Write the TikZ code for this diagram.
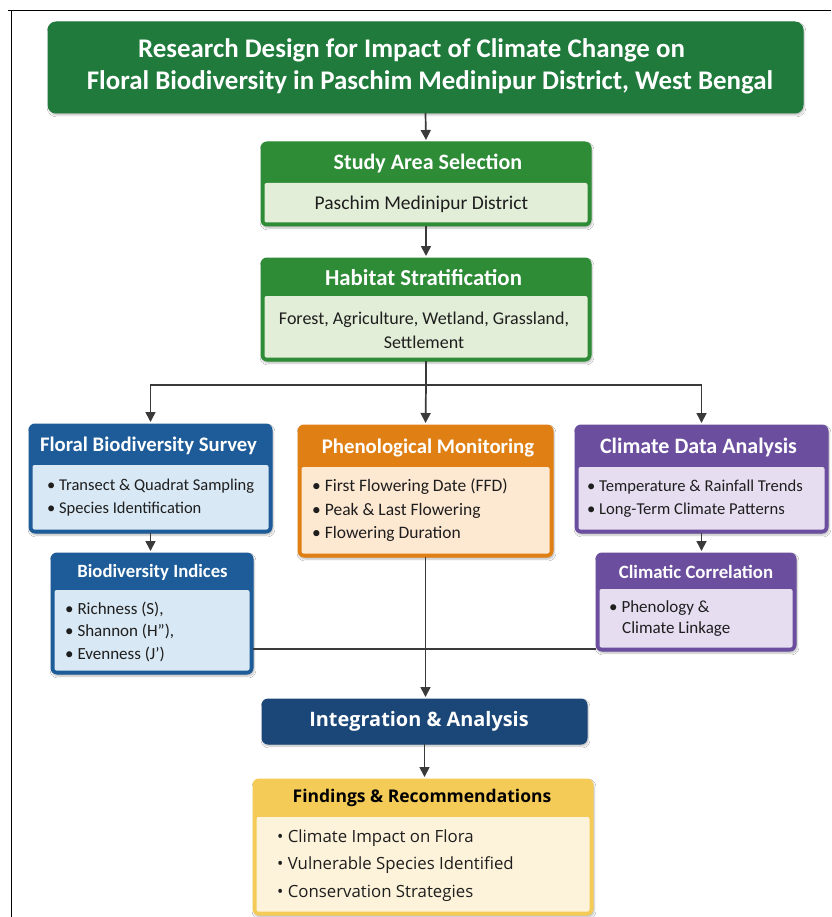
\documentclass[tikz,border=0pt]{standalone}
\usepackage{fontspec}
\setmainfont{Carlito}
\newfontfamily\osans{Open Sans}
\usetikzlibrary{arrows.meta,fit,shadows.blur}
\definecolor{tiG}{HTML}{1F7A3C}
\definecolor{grD}{HTML}{2E8B36}
\definecolor{grL}{HTML}{E2EED7}
\definecolor{blD}{HTML}{1D5C98}
\definecolor{blL}{HTML}{D8E8F4}
\definecolor{orD}{HTML}{DF7F14}
\definecolor{orL}{HTML}{FDE8D2}
\definecolor{puD}{HTML}{6B4E9E}
\definecolor{puL}{HTML}{E6DDF1}
\definecolor{naD}{HTML}{1B4778}
\definecolor{yeD}{HTML}{F4CB57}
\definecolor{yeL}{HTML}{FDF2DA}
\definecolor{txt}{HTML}{1E1E1E}
\definecolor{cn}{HTML}{3A3A3A}
\tikzset{
  panel/.style={rounded corners=6pt, line width=1pt, inner sep=0pt, outer sep=0pt,
    blur shadow={shadow blur steps=6, shadow xshift=1pt, shadow yshift=-2pt, shadow opacity=28}},
  conn/.style={draw=cn, line width=1.7pt},
  arr/.style={conn, -{Triangle[length=10pt,width=10pt]}, shorten >=2pt},
  hdr/.style={text=white, inner sep=0pt, font=\bfseries},
  bodytxt/.style={text=txt, inner sep=0pt, align=left, anchor=west},
}
\newcommand\panelbox[7]{%
  \node[panel, fill=#7D, draw=#7D, fit={(#2,#3) (#4,#5)}] (#1) {};
  \fill[#7L, rounded corners=2pt] ({#2+3.5},#6) rectangle ({#4-3.5},{#5-3.5});
}
\begin{document}
\begin{tikzpicture}[x=1pt,y=-1pt]
\path[use as bounding box] (0,0) rectangle (831,917);
\fill[white] (0,0) rectangle (831,917);
% frame
\draw[line width=1.3pt] (8,10.5) -- (831,10.5);
\draw[line width=1.3pt] (11.5,10.5) -- (11.5,917);

% title
\node[panel, fill=tiG, draw=tiG, rounded corners=8pt, fit={(48,22) (803,113)}] (title) {};
\node[hdr, align=center, font=\fontsize{26.9}{31.5}\selectfont\bfseries] (titletxt) at (425.5,66.5)
  {Research Design for Impact of Climate Change on\hspace*{28pt}\\\hspace*{9pt}Floral Biodiversity in Paschim Medinipur District, West Bengal};

% study area
\panelbox{sa}{261}{142}{591}{226}{183}{gr}
\node[hdr, font=\fontsize{22}{25}\selectfont\bfseries] (sah) at (428,163) {Study Area Selection};
\node[text=txt, inner sep=0pt, font=\fontsize{19.5}{23}\selectfont] (sab) at (421.5,204) {Paschim Medinipur District};

% habitat
\panelbox{hs}{261}{258}{591}{361}{296}{gr}
\node[hdr, font=\fontsize{22.8}{25}\selectfont\bfseries] (hsh) at (423.5,278) {Habitat Stratification};
\node[text=txt, inner sep=0pt, align=center, font=\fontsize{18}{23.7}\selectfont] (hsb) at (424,330) {Forest, Agriculture, Wetland, Grassland,\\Settlement};

% floral biodiversity survey
\panelbox{fbs}{29}{424}{272}{533}{465}{bl}
\node[hdr, font=\fontsize{20.7}{23}\selectfont\bfseries] (fbsh) at (148.5,446) {Floral Biodiversity Survey};
\node[bodytxt, font=\fontsize{16.5}{23}\selectfont] (fbsb) at (47,497.5) {• Transect \& Quadrat Sampling\\• Species Identification};

% phenological monitoring
\panelbox{pm}{298}{425}{553}{557}{467}{or}
\node[hdr, font=\fontsize{20.8}{23}\selectfont\bfseries] (pmh) at (428,448) {Phenological Monitoring};
\node[bodytxt, font=\fontsize{17.5}{23.5}\selectfont] (pmb) at (312,510.5) {• First Flowering Date (FFD)\\• Peak \& Last Flowering\\• Flowering Duration};

% climate data analysis
\panelbox{cda}{575}{425}{828}{533}{467}{pu}
\node[hdr, font=\fontsize{22}{25}\selectfont\bfseries] (cdah) at (698.5,448) {Climate Data Analysis};
\node[bodytxt, font=\fontsize{16.6}{23}\selectfont] (cdab) at (587,498.5) {• Temperature \& Rainfall Trends\\• Long-Term Climate Patterns};

% biodiversity indices
\panelbox{bi}{51}{553}{253}{674}{590}{bl}
\node[hdr, font=\fontsize{18.7}{21}\selectfont\bfseries] (bih) at (152.5,572) {Biodiversity Indices};
\node[bodytxt, font=\fontsize{17}{22.5}\selectfont] (bib) at (65,631.5) {• Richness (S),\\• Shannon (H"),\\• Evenness (J')};

% climatic correlation
\panelbox{cc}{596}{553}{796}{651}{589}{pu}
\node[hdr, font=\fontsize{18.8}{21}\selectfont\bfseries] (cch) at (696,572) {Climatic Correlation};
\node[bodytxt, font=\fontsize{17}{21}\selectfont] (ccb) at (609,618.5) {• Phenology \&\\\hspace*{13pt}Climate Linkage};

% integration
\node[panel, fill=naD, draw=naD, fit={(262,699) (587,744)}] (ia) {};
\node[hdr, font=\osans\fontsize{19.9}{23}\selectfont\bfseries] (iat) at (419,721) {Integration \& Analysis};

% findings
\panelbox{fr}{253}{779}{593}{915}{817}{ye}
\node[hdr, text=black, font=\osans\fontsize{17.5}{22}\selectfont\bfseries] (frh) at (422,798) {Findings \& Recommendations};
\node[bodytxt, font=\osans\fontsize{16.8}{27.5}\selectfont] (frb) at (277,865.5) {• Climate Impact on Flora\\• Vulnerable Species Identified\\• Conservation Strategies};

% connectors
\draw[arr] (title.south) -- (sa.north);
\draw[arr] (sa.south) -- (hs.north);
\coordinate (split) at (426,385);
\draw[conn] (hs.south) -- (split);
\draw[arr] (split) -| (fbs.north);
\draw[arr] (split) -- (pm.north);
\draw[arr] (split) -| (cda.north);
\draw[arr] (fbs.south) -- (fbs.south |- bi.north);
\draw[arr] (cda.south) -- (cda.south |- cc.north);
\draw[conn] ([yshift=2pt]cc.south west) -- ([yshift=2pt]cc.south west -| bi.east);
\draw[arr] (pm.south) -- (pm.south |- ia.north);
\draw[arr] (ia.south) -- (ia.south |- fr.north);
\end{tikzpicture}
\end{document}
